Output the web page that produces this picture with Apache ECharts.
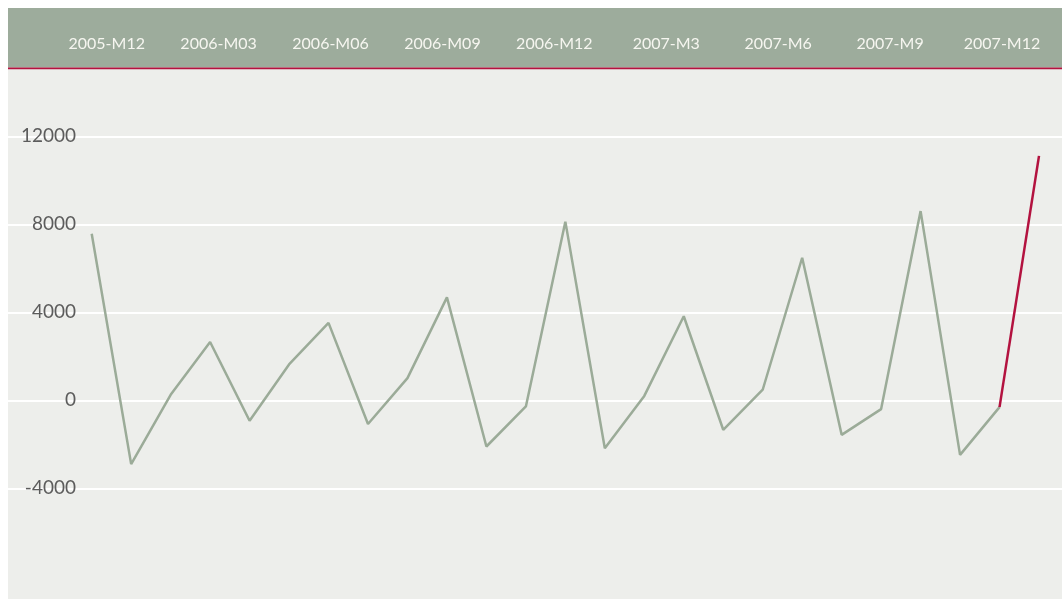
<!DOCTYPE html>
<html>
<head>
<meta charset="utf-8">
<script src="https://cdn.jsdelivr.net/npm/echarts@6/dist/echarts.min.js"></script>
<style>
  html, body { margin: 0; padding: 0; background: #fff; }
  #chart-box { position: absolute; left: 8px; top: 8px; width: 1054px; height: 591px; }
</style>
</head>
<body>
<div id="chart-box"></div>
<script>
// monthly periods, 2005-M12 .. 2007-M12
const months = [
  '2005-M12', '2006-M01', '2006-M02', '2006-M03', '2006-M04', '2006-M05', '2006-M06',
  '2006-M07', '2006-M08', '2006-M09', '2006-M10', '2006-M11', '2006-M12',
  '2007-M1', '2007-M2', '2007-M3', '2007-M4', '2007-M5', '2007-M6',
  '2007-M7', '2007-M8', '2007-M9', '2007-M10', '2007-M11', '2007-M12'
];
const values = [
  7570, -2900, 250, 2650, -930, 1630, 3520,
  -1080, 1010, 4680, -2100, -280, 8120,
  -2180, 200, 3820, -1340, 480, 6480,
  -1570, -400, 8600, -2480, -310, 11110
];
// labels shown in the header band
const headerLabels = [
  '2005-M12', '2006-M03', '2006-M06', '2006-M09', '2006-M12',
  '2007-M3', '2007-M6', '2007-M9', '2007-M12'
];
const yMin = -8000;
const yMax = 12000;
const yStep = 4000;

const lastIdx = values.length - 2; // last segment drawn in red
const greyData = values.map((v, i) => (i <= lastIdx ? v : '-'));
const redData = values.map((v, i) => (i >= lastIdx ? v : '-'));

const plotTop = 128.3;
const plotBottom = 22.7;

const option = {
  backgroundColor: '#edeeeb',
  animation: false,
  graphic: [
    { type: 'rect', z: -10, shape: { x: 0, y: 0, width: 1054, height: 59.5 }, style: { fill: '#9dac9c' } },
    { type: 'rect', z: -10, shape: { x: 0, y: 59.5, width: 1054, height: 1.8 }, style: { fill: '#b3123f' } }
  ],
  grid: [
    { left: 83.7, right: 23, top: plotTop, bottom: plotBottom }, // data
    { left: 0, right: 0, top: plotTop, bottom: plotBottom },     // y grid lines
    { left: 98.7, right: 60, top: 36, height: 10 }               // header labels
  ],
  xAxis: [
    { gridIndex: 0, type: 'category', data: months, boundaryGap: false, show: false },
    { gridIndex: 1, type: 'value', min: 0, max: 1, show: false },
    {
      gridIndex: 2,
      type: 'category',
      data: headerLabels,
      boundaryGap: false,
      position: 'top',
      axisLine: { show: false },
      axisTick: { show: false },
      axisLabel: {
        interval: 0,
        margin: 0,
        verticalAlign: 'middle',
        color: '#f6f6f0',
        fontSize: 16,
        fontFamily: 'Lato'
      }
    }
  ],
  yAxis: [
    { gridIndex: 0, type: 'value', min: yMin, max: yMax, interval: yStep, show: false },
    {
      gridIndex: 1,
      type: 'value',
      min: yMin,
      max: yMax,
      interval: yStep,
      axisLine: { show: false },
      axisTick: { show: false },
      axisLabel: {
        inside: true,
        align: 'right',
        margin: 68,
        showMinLabel: false,
        formatter: (v) => String(v),
        color: '#5c5c5c',
        fontSize: 19,
        fontFamily: 'Lato'
      },
      splitLine: {
        showMinLine: false,
        lineStyle: { color: '#ffffff', width: 2 }
      }
    },
    { gridIndex: 2, type: 'value', show: false }
  ],
  series: [
    {
      type: 'line',
      xAxisIndex: 0,
      yAxisIndex: 0,
      data: greyData,
      symbol: 'none',
      lineStyle: { color: '#9bab98', width: 2.5 },
      z: 3
    },
    {
      type: 'line',
      xAxisIndex: 0,
      yAxisIndex: 0,
      data: redData,
      symbol: 'none',
      lineStyle: { color: '#b3123f', width: 2.5 },
      z: 4
    }
  ]
};

const mycharts = echarts.init(document.getElementById('chart-box'));
mycharts.setOption(option);
</script>
</body>
</html>
